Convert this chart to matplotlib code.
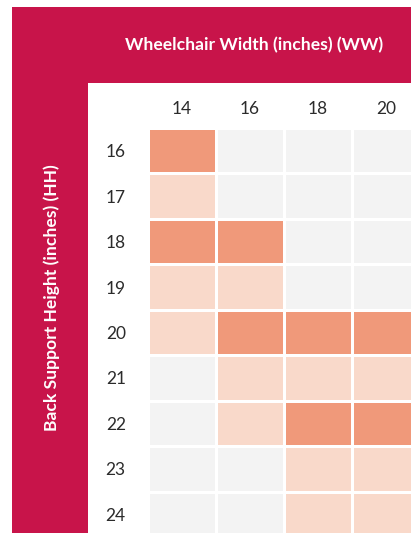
"""
Wheelchair width vs back support height availability grid.
"""
import numpy as np
import matplotlib.pyplot as plt
import matplotlib as mpl
from matplotlib.colors import ListedColormap, BoundaryNorm
from matplotlib.patches import Rectangle

mpl.rcParams['font.family'] = ['Lato', 'DejaVu Sans']

widths = ['14', '16', '18', '20']
heights = ['16', '17', '18', '19', '20', '21', '22', '23', '24']

# 0 = not available, 1 = available, 2 = recommended
col_14 = [2, 1, 2, 1, 1, 0, 0, 0, 0]
col_16 = [0, 0, 2, 1, 2, 1, 1, 0, 0]
col_18 = [0, 0, 0, 0, 2, 1, 2, 1, 1]
col_20 = [0, 0, 0, 0, 2, 1, 2, 1, 1]

W, H = 411, 533
fig = plt.figure(figsize=(W / 100, H / 100), dpi=100)

red = '#C8144A'
# red frame and white inner panel, behind the axes
fig.patches.append(Rectangle((12 / W, 0), 1, 1 - 7 / H, transform=fig.transFigure,
                             facecolor=red, edgecolor='none', zorder=-2))
fig.patches.append(Rectangle((88 / W, 0), 1, 1 - 83 / H, transform=fig.transFigure,
                             facecolor='white', edgecolor='none', zorder=-1))

fig.text(254 / W, 1 - 45 / H, 'Wheelchair Width (inches) (WW)', color='white',
         fontsize=12.6, fontweight='bold', ha='center', va='center')
fig.text(52 / W, 1 - 298 / H, 'Back Support Height (inches) (HH)', color='white',
         fontsize=12.6, fontweight='bold', ha='center', va='center', rotation=90)

# grid axes (extends past the right and bottom edges, like the cropped table)
left, top = 148 / W, 1 - 128 / H
aw, ah = 4 * 68 / W, 9 * 45.45 / H
ax = fig.add_axes([left, top - ah, aw, ah])
ax.patch.set_alpha(0)

grid = np.array([col_14, col_16, col_18, col_20]).T
cmap = ListedColormap(['#F3F3F3', '#F9D9CA', '#F0997A'])
norm = BoundaryNorm([-0.5, 0.5, 1.5, 2.5], cmap.N)
ax.pcolormesh(np.arange(len(widths) + 1), np.arange(len(heights) + 1), grid,
              cmap=cmap, norm=norm, edgecolors='white', linewidth=2)
ax.set_xlim(0, len(widths))
ax.set_ylim(len(heights), 0)

ax.xaxis.tick_top()
ax.set_xticks(np.arange(len(widths)) + 0.5)
ax.set_xticklabels(widths)
ax.set_yticks(np.arange(len(heights)) + 0.5)
ax.set_yticklabels(heights)
ax.tick_params(length=0, labelsize=12.5, colors='#2B2B2B')
ax.tick_params(axis='x', pad=8)
ax.tick_params(axis='y', pad=16)
for s in ax.spines.values():
    s.set_visible(False)

plt.savefig('out.png', dpi=100)
